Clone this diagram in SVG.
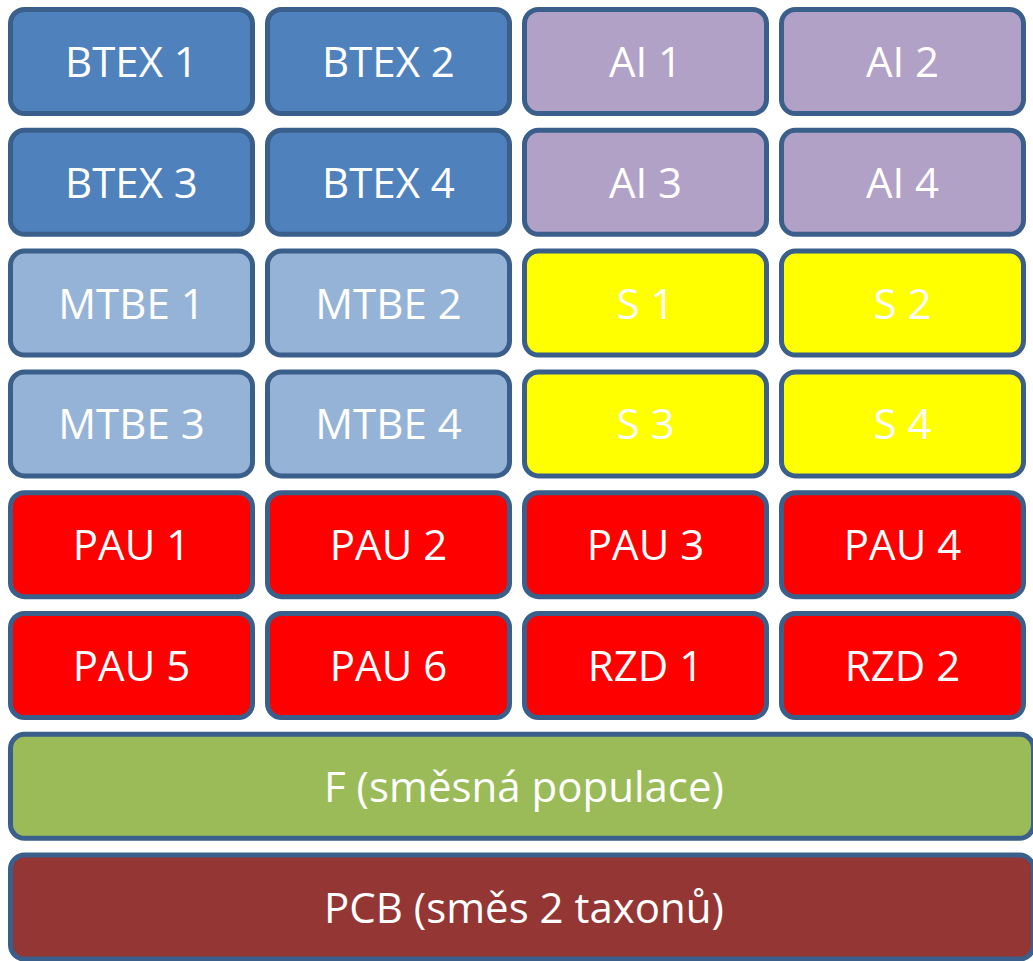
<svg xmlns="http://www.w3.org/2000/svg" width="1033" height="961" viewBox="0 0 1033 961">
  <style>
    .box { stroke: #3A5F8B; stroke-width: 5; }
    .lbl { font-family: "Open Sans", "DejaVu Sans", sans-serif; font-size: 42px; fill: #FFFFFF; text-anchor: middle; }
    .btex { fill: #4F81BD; }
    .ai { fill: #B2A1C7; }
    .mtbe { fill: #95B3D7; }
    .s { fill: #FFFF00; }
    .pau { fill: #FF0000; }
    .f { fill: #9BBB59; }
    .pcb { fill: #943634; }
  </style>
  <rect width="1033" height="961" fill="#FFFFFF"/>

  <!-- row 1 -->
  <g id="btex1"><rect class="box btex" x="10.5" y="9.5" width="242" height="104" rx="14"/><text class="lbl" x="131.5" y="77">BTEX 1</text></g>
  <g id="btex2"><rect class="box btex" x="267.5" y="9.5" width="242" height="104" rx="14"/><text class="lbl" x="388.5" y="77">BTEX 2</text></g>
  <g id="ai1"><rect class="box ai" x="524.5" y="9.5" width="242" height="104" rx="14"/><text class="lbl" x="645.5" y="77">AI 1</text></g>
  <g id="ai2"><rect class="box ai" x="781.5" y="9.5" width="242" height="104" rx="14"/><text class="lbl" x="902.5" y="77">AI 2</text></g>

  <!-- row 2 -->
  <g id="btex3"><rect class="box btex" x="10.5" y="130.3" width="242" height="104" rx="14"/><text class="lbl" x="131.5" y="197.8">BTEX 3</text></g>
  <g id="btex4"><rect class="box btex" x="267.5" y="130.3" width="242" height="104" rx="14"/><text class="lbl" x="388.5" y="197.8">BTEX 4</text></g>
  <g id="ai3"><rect class="box ai" x="524.5" y="130.3" width="242" height="104" rx="14"/><text class="lbl" x="645.5" y="197.8">AI 3</text></g>
  <g id="ai4"><rect class="box ai" x="781.5" y="130.3" width="242" height="104" rx="14"/><text class="lbl" x="902.5" y="197.8">AI 4</text></g>

  <!-- row 3 -->
  <g id="mtbe1"><rect class="box mtbe" x="10.5" y="251.1" width="242" height="104" rx="14"/><text class="lbl" x="131.5" y="318.6">MTBE 1</text></g>
  <g id="mtbe2"><rect class="box mtbe" x="267.5" y="251.1" width="242" height="104" rx="14"/><text class="lbl" x="388.5" y="318.6">MTBE 2</text></g>
  <g id="s1"><rect class="box s" x="524.5" y="251.1" width="242" height="104" rx="14"/><text class="lbl" x="645.5" y="318.6">S 1</text></g>
  <g id="s2"><rect class="box s" x="781.5" y="251.1" width="242" height="104" rx="14"/><text class="lbl" x="902.5" y="318.6">S 2</text></g>

  <!-- row 4 -->
  <g id="mtbe3"><rect class="box mtbe" x="10.5" y="371.9" width="242" height="104" rx="14"/><text class="lbl" x="131.5" y="439.4">MTBE 3</text></g>
  <g id="mtbe4"><rect class="box mtbe" x="267.5" y="371.9" width="242" height="104" rx="14"/><text class="lbl" x="388.5" y="439.4">MTBE 4</text></g>
  <g id="s3"><rect class="box s" x="524.5" y="371.9" width="242" height="104" rx="14"/><text class="lbl" x="645.5" y="439.4">S 3</text></g>
  <g id="s4"><rect class="box s" x="781.5" y="371.9" width="242" height="104" rx="14"/><text class="lbl" x="902.5" y="439.4">S 4</text></g>

  <!-- row 5 -->
  <g id="pau1"><rect class="box pau" x="10.5" y="492.7" width="242" height="104" rx="14"/><text class="lbl" x="131.5" y="560.2">PAU 1</text></g>
  <g id="pau2"><rect class="box pau" x="267.5" y="492.7" width="242" height="104" rx="14"/><text class="lbl" x="388.5" y="560.2">PAU 2</text></g>
  <g id="pau3"><rect class="box pau" x="524.5" y="492.7" width="242" height="104" rx="14"/><text class="lbl" x="645.5" y="560.2">PAU 3</text></g>
  <g id="pau4"><rect class="box pau" x="781.5" y="492.7" width="242" height="104" rx="14"/><text class="lbl" x="902.5" y="560.2">PAU 4</text></g>

  <!-- row 6 -->
  <g id="pau5"><rect class="box pau" x="10.5" y="613.5" width="242" height="104" rx="14"/><text class="lbl" x="131.5" y="681">PAU 5</text></g>
  <g id="pau6"><rect class="box pau" x="267.5" y="613.5" width="242" height="104" rx="14"/><text class="lbl" x="388.5" y="681">PAU 6</text></g>
  <g id="rzd1"><rect class="box pau" x="524.5" y="613.5" width="242" height="104" rx="14"/><text class="lbl" x="645.5" y="681">RZD 1</text></g>
  <g id="rzd2"><rect class="box pau" x="781.5" y="613.5" width="242" height="104" rx="14"/><text class="lbl" x="902.5" y="681">RZD 2</text></g>

  <!-- full-width bars -->
  <g id="f"><rect class="box f" x="10.5" y="734.3" width="1023" height="104" rx="14"/><text class="lbl" x="524" y="801.8">F (směsná populace)</text></g>
  <g id="pcb"><rect class="box pcb" x="10.5" y="855.1" width="1023" height="104" rx="14"/><text class="lbl" x="524" y="922.6">PCB (směs 2 taxonů)</text></g>

  <g id="connectors"/>
</svg>
